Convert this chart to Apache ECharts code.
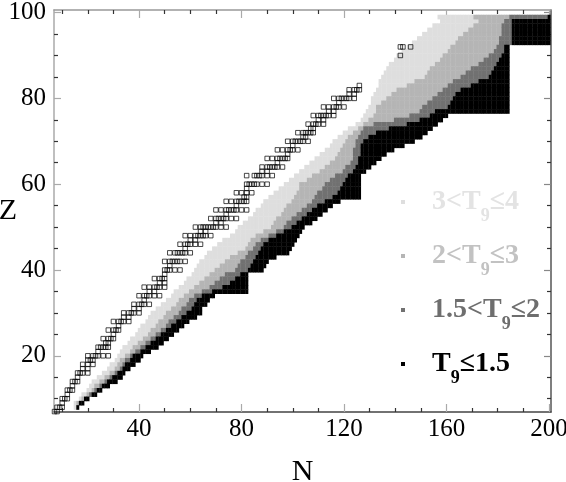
<!DOCTYPE html>
<html>
<head>
<meta charset="utf-8">
<script src="https://cdn.jsdelivr.net/npm/echarts@6/dist/echarts.min.js"></script>
<style>
  html, body { margin: 0; padding: 0; background: #fff; }
  #chart { width: 566px; height: 482px; }
</style>
</head>
<body>
<div id="chart"></div>
<script>
// band of computed nuclei, one entry per Z row (Z = 8 ... 99)
const rowZ = [
  8, 9, 10, 11, 12, 13, 14, 15, 16, 17,
  18, 19, 20, 21, 22, 23, 24, 25, 26, 27,
  28, 29, 30, 31, 32, 33, 34, 35, 36, 37,
  38, 39, 40, 41, 42, 43, 44, 45, 46, 47,
  48, 49, 50, 51, 52, 53, 54, 55, 56, 57,
  58, 59, 60, 61, 62, 63, 64, 65, 66, 67,
  68, 69, 70, 71, 72, 73, 74, 75, 76, 77,
  78, 79, 80, 81, 82, 83, 84, 85, 86, 87,
  88, 89, 90, 91, 92, 93, 94, 95, 96, 97,
  98, 99
]
// first N of each temperature class in the row (3<T9<=4, 2<T9<=3, 1.5<T9<=2, T9<=1.5)
const lightFrom = [
  15, 15, 17, 18, 20, 21, 22, 24, 26, 28,
  29, 31, 32, 33, 34, 36, 37, 39, 40, 41,
  43, 44, 45, 47, 49, 51, 53, 54, 56, 58,
  59, 61, 62, 63, 64, 66, 67, 69, 71, 73,
  76, 78, 79, 81, 83, 85, 86, 88, 89, 91,
  93, 95, 97, 99, 101, 103, 105, 107, 109, 111,
  113, 115, 116, 118, 120, 122, 125, 127, 128, 129,
  130, 131, 131, 132, 133, 134, 134, 135, 136, 137,
  138, 140, 141, 143, 145, 147, 149, 151, 153, 155,
  158, 157
]
const mediumFrom = [
  16, 16, 18, 20, 22, 23, 25, 27, 29, 31,
  32, 33, 35, 37, 38, 40, 42, 44, 45, 47,
  48, 50, 51, 53, 55, 56, 58, 60, 62, 64,
  66, 68, 70, 72, 74, 76, 79, 82, 83, 84,
  86, 89, 92, 93, 94, 96, 97, 98, 100, 101,
  102, 103, 103, 106, 108, 111, 113, 115, 117, 118,
  119, 120, 121, 122, 124, 126, 128, 130, 132, 133,
  133, 135, 137, 139, 141, 145, 148, 152, 153, 154,
  156, 158, 159, 161, 162, 164, 165, 167, 169, 171,
  173, 171
]
const darkFrom = [
  16, 17, 19, 21, 23, 25, 27, 29, 31, 33,
  34, 35, 37, 39, 41, 43, 45, 47, 49, 51,
  52, 54, 56, 57, 59, 60, 62, 65, 68, 70,
  72, 74, 78, 79, 80, 82, 83, 85, 86, 88,
  91, 94, 97, 98, 100, 102, 104, 106, 108, 109,
  110, 112, 113, 115, 117, 120, 121, 123, 124, 124,
  124, 125, 125, 126, 127, 128, 132, 140, 146, 150,
  151, 153, 155, 157, 159, 161, 163, 166, 168, 170,
  173, 175, 177, 179, 180, 181, 181, 182, 182, 182,
  183, 185
]
const blackFrom = [
  16, 17, 19, 22, 24, 26, 28, 30, 32, 34,
  35, 37, 38, 41, 43, 45, 47, 49, 51, 53,
  55, 57, 59, 61, 62, 63, 65, 69, 73, 76,
  78, 80, 83, 84, 85, 86, 87, 88, 89, 91,
  94, 97, 100, 102, 104, 106, 108, 110, 113, 116,
  118, 119, 120, 121, 122, 124, 125, 126, 126, 127,
  127, 127, 128, 130, 133, 138, 145, 150, 154, 156,
  161, 162, 163, 164, 166, 170, 173, 177, 178, 179,
  180, 181, 182, 183, 183, 186, 186, 186, 186, 186,
  186, 200
]
// last N of the row (neutron-rich edge)
const rowEnd = [
  16, 18, 20, 23, 25, 28, 31, 33, 34, 36,
  38, 40, 41, 44, 47, 49, 51, 53, 55, 57,
  59, 62, 64, 64, 66, 67, 69, 82, 82, 82,
  82, 82, 88, 89, 90, 93, 98, 99, 100, 101,
  102, 103, 104, 107, 109, 111, 113, 115, 118, 126,
  126, 126, 126, 126, 126, 128, 130, 132, 134, 136,
  139, 143, 147, 150, 152, 154, 156, 158, 160, 184,
  184, 184, 184, 184, 184, 184, 184, 184, 184, 184,
  184, 184, 184, 184, 184, 200, 200, 200, 200, 200,
  200, 200
]

// stable nuclei (open squares): Z and its N values
const stableZ = [
  7, 8, 9, 10, 11, 12, 13, 14, 15, 16, 17, 18, 19, 20, 21, 22, 23, 24, 25, 26,
  27, 28, 29, 30, 31, 32, 33, 34, 35, 36, 37, 38, 39, 40, 41, 42, 44, 45, 46, 47,
  48, 49, 50, 51, 52, 53, 54, 55, 56, 57, 58, 59, 60, 62, 63, 64, 65, 66, 67, 68,
  69, 70, 71, 72, 73, 74, 75, 76, 77, 78, 79, 80, 81, 82, 83, 90, 92
]
const stableN = [
  [7, 8], [8, 9, 10], [10], [10, 11, 12], [12], [12, 13, 14], [14], [14, 15, 16], [16], [16, 17, 18, 20],
  [18, 20], [18, 20, 22], [20, 21, 22], [20, 22, 23, 24, 26, 28], [24], [24, 25, 26, 27, 28], [27, 28], [26, 28, 29, 30], [30], [28, 30, 31, 32],
  [32], [30, 32, 33, 34, 36], [34, 36], [34, 36, 37, 38, 40], [38, 40], [38, 40, 41, 42, 44], [42], [40, 42, 43, 44, 46, 48], [44, 46], [42, 44, 46, 47, 48, 50],
  [48, 50], [46, 48, 49, 50], [50], [50, 51, 52, 54, 56], [52], [50, 52, 53, 54, 55, 56, 58], [52, 54, 55, 56, 57, 58, 60], [58], [56, 58, 59, 60, 62, 64], [60, 62],
  [58, 60, 62, 63, 64, 65, 66, 68], [64, 66], [62, 64, 65, 66, 67, 68, 69, 70, 72, 74], [70, 72], [68, 70, 71, 72, 73, 74, 76, 78], [74], [70, 72, 74, 75, 76, 77, 78, 80, 82], [78], [74, 76, 78, 79, 80, 81, 82], [81, 82],
  [78, 80, 82, 84], [82], [82, 83, 84, 85, 86, 88, 90], [82, 85, 86, 87, 88, 90, 92], [88, 90], [88, 90, 91, 92, 93, 94, 96], [94], [90, 92, 94, 95, 96, 97, 98], [98], [94, 96, 98, 99, 100, 102],
  [100], [98, 100, 101, 102, 103, 104, 106], [104, 105], [102, 104, 105, 106, 107, 108], [107, 108], [106, 108, 109, 110, 112], [110, 112], [108, 110, 111, 112, 113, 114, 116], [114, 116], [112, 114, 116, 117, 118, 120],
  [118], [116, 118, 119, 120, 121, 122, 124], [122, 124], [122, 124, 125, 126], [126], [142], [142, 143, 146]
]

const classNames = ['3<T9≤4', '2<T9≤3', '1.5<T9≤2', 'T9≤1.5']
const classColors = ['#dedede', '#b5b5b5', '#717171', '#000000']
const legendTextColors = ['#e3e3e3', '#c2c2c2', '#6e6e6e', '#000000']

const xLabelValues = [40, 80, 120, 160, 200]
const xMinorTicks = [10, 20, 30, 50, 60, 70, 90, 100, 110, 130, 140, 150, 170, 180, 190]
const yLabelValues = [20, 40, 60, 80, 100]
const yMinorTicks = [10, 15, 25, 30, 35, 45, 50, 55, 65, 70, 75, 85, 90, 95]

const serif = "'Liberation Serif', 'Times New Roman', serif"

// expand each row into single cells
const cells = [[], [], [], []]
rowZ.forEach((z, i) => {
  for (let n = lightFrom[i]; n <= rowEnd[i]; n++) {
    let c = 0
    if (n >= blackFrom[i]) c = 3
    else if (n >= darkFrom[i]) c = 2
    else if (n >= mediumFrom[i]) c = 1
    cells[c].push([n, z])
  }
})

const stablePoints = []
stableZ.forEach((z, i) => {
  stableN[i].forEach(n => stablePoints.push([n, z]))
})

const X_MIN = 6.8, X_MAX = 200.8
const Y_MIN = 6.9, Y_MAX = 100.6

function xAxisOf(position, ticks, len, tickColor, lineColor, withLabels) {
  return {
    type: 'value', min: X_MIN, max: X_MAX, position: position,
    name: withLabels ? 'N' : '',
    nameLocation: 'middle', nameGap: 45, nameMoveOverlap: false,
    nameTextStyle: { fontFamily: serif, fontSize: 30, color: '#000', verticalAlign: 'top' },
    axisLine: { show: !!lineColor, onZero: false, lineStyle: { color: lineColor || '#000', width: 1.5 } },
    axisTick: { show: true, inside: true, length: len, customValues: ticks, lineStyle: { color: tickColor, width: 1.2 } },
    axisLabel: withLabels
      ? { show: true, customValues: xLabelValues, fontFamily: serif, fontSize: 25, color: '#000', margin: 5 }
      : { show: false },
    splitLine: { show: false }
  }
}

function yAxisOf(position, ticks, len, tickColor, lineColor, withLabels) {
  return {
    type: 'value', min: Y_MIN, max: Y_MAX, position: position,
    name: withLabels ? 'Z' : '',
    nameLocation: 'middle', nameGap: 37, nameRotate: 0, nameMoveOverlap: false,
    nameTextStyle: { fontFamily: serif, fontSize: 30, color: '#000' },
    axisLine: { show: !!lineColor, onZero: false, lineStyle: { color: lineColor || '#000', width: 1.5 } },
    axisTick: { show: true, inside: true, length: len, customValues: ticks, lineStyle: { color: tickColor, width: 1.2 } },
    axisLabel: withLabels
      ? { show: true, customValues: yLabelValues, fontFamily: serif, fontSize: 25, color: '#000', margin: 8 }
      : { show: false },
    splitLine: { show: false }
  }
}

function cellSeries(idx) {
  return {
    name: classNames[idx],
    type: 'custom',
    xAxisIndex: 0, yAxisIndex: 0,
    clip: true,
    itemStyle: { color: classColors[idx] },
    data: cells[idx],
    renderItem: (params, api) => {
      const p = api.coord([api.value(0) - 0.5, api.value(1) + 0.5])
      const s = api.size([1, 1])
      return {
        type: 'rect',
        shape: { x: p[0], y: p[1], width: s[0] + 0.4, height: s[1] + 0.4 },
        style: { fill: classColors[idx] }
      }
    }
  }
}

const rich = {}
classNames.forEach((n, i) => {
  rich['a' + i] = { fontFamily: serif, fontWeight: 'bold', fontSize: 28, color: legendTextColors[i] }
  rich['s' + i] = { fontFamily: serif, fontWeight: 'bold', fontSize: 18, color: legendTextColors[i], padding: [28, 0, 0, 0] }
})

const chart = echarts.init(document.getElementById('chart'))
chart.setOption({
  animation: false,
  backgroundColor: '#fff',
  grid: { left: 54, right: 15, top: 10, bottom: 70, outerBoundsMode: 'none', containLabel: false },
  xAxis: [
    xAxisOf('bottom', xMinorTicks, 4, '#333', '#444', true),
    xAxisOf('bottom', xLabelValues, 8, '#aaa', null, false),
    xAxisOf('top', xMinorTicks, 4, '#333', '#999', false),
    xAxisOf('top', xLabelValues, 8, '#aaa', null, false)
  ],
  yAxis: [
    yAxisOf('left', yMinorTicks, 4, '#333', '#aaa', true),
    yAxisOf('left', yLabelValues, 7, '#aaa', null, false),
    yAxisOf('right', yMinorTicks, 4, '#333', '#555', false),
    yAxisOf('right', yLabelValues, 7, '#888', null, false)
  ],
  legend: {
    orient: 'vertical',
    left: 396, top: 183,
    icon: 'rect', itemWidth: 4, itemHeight: 4, itemGap: 17,
    selectedMode: false,
    data: classNames.map((n, i) => ({ name: n, itemStyle: { color: classColors[i] } })),
    formatter: name => {
      const i = classNames.indexOf(name)
      const parts = name.split('T9')
      return '{a' + i + '|' + parts[0] + 'T}{s' + i + '|9}{a' + i + '|' + parts[1] + '}'
    },
    textStyle: { padding: [0, 0, 0, 22], rich: rich }
  },
  series: [
    cellSeries(0), cellSeries(1), cellSeries(2), cellSeries(3),
    {
      name: 'stable',
      type: 'scatter',
      xAxisIndex: 0, yAxisIndex: 0,
      symbol: 'rect', symbolSize: 4.5,
      z: 5,
      itemStyle: { color: 'rgba(0,0,0,0)', borderColor: '#000', borderWidth: 0.9 },
      data: stablePoints
    }
  ]
})
</script>
</body>
</html>
